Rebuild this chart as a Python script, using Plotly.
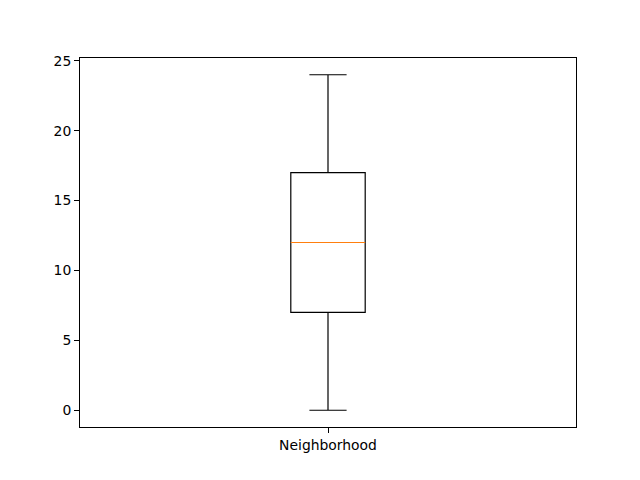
import plotly.graph_objects as go

categories = ["Neighborhood"]
positions = [1]
lower_whisker = [0]
q1 = [7]
median = [12]
q3 = [17]
upper_whisker = [24]
box_width = 0.15

fig = go.Figure()
fig.add_trace(go.Box(
    x=positions, q1=q1, median=median, q3=q3,
    lowerfence=lower_whisker, upperfence=upper_whisker,
    width=box_width, whiskerwidth=0.5, boxpoints=False,
    fillcolor="rgba(0,0,0,0)", line=dict(color="black", width=1.2),
    showlegend=False, hoverinfo="skip",
))
for p, m in zip(positions, median):
    fig.add_trace(go.Scatter(
        x=[p - box_width / 2, p + box_width / 2], y=[m, m], mode="lines",
        line=dict(color="#ff7f0e", width=1), showlegend=False, hoverinfo="skip",
    ))

fig.update_layout(
    width=640, height=480,
    margin=dict(l=80, r=64, t=58, b=53),
    paper_bgcolor="white", plot_bgcolor="white",
    font=dict(family="DejaVu Sans", size=13.9, color="black"),
)
fig.update_xaxes(
    range=[0.5, 1.5], tickvals=positions, ticktext=categories,
    showline=True, linecolor="black", linewidth=1.1, mirror=True,
    ticks="outside", ticklen=4.9, tickcolor="black", tickwidth=1.1,
    showgrid=False, zeroline=False,
)
fig.update_yaxes(
    range=[-1.2, 25.2], tickvals=[0, 5, 10, 15, 20, 25],
    showline=True, linecolor="black", linewidth=1.1, mirror=True,
    ticks="outside", ticklen=4.9, tickcolor="black", tickwidth=1.1,
    showgrid=False, zeroline=False,
)
fig.write_html("out.html")
